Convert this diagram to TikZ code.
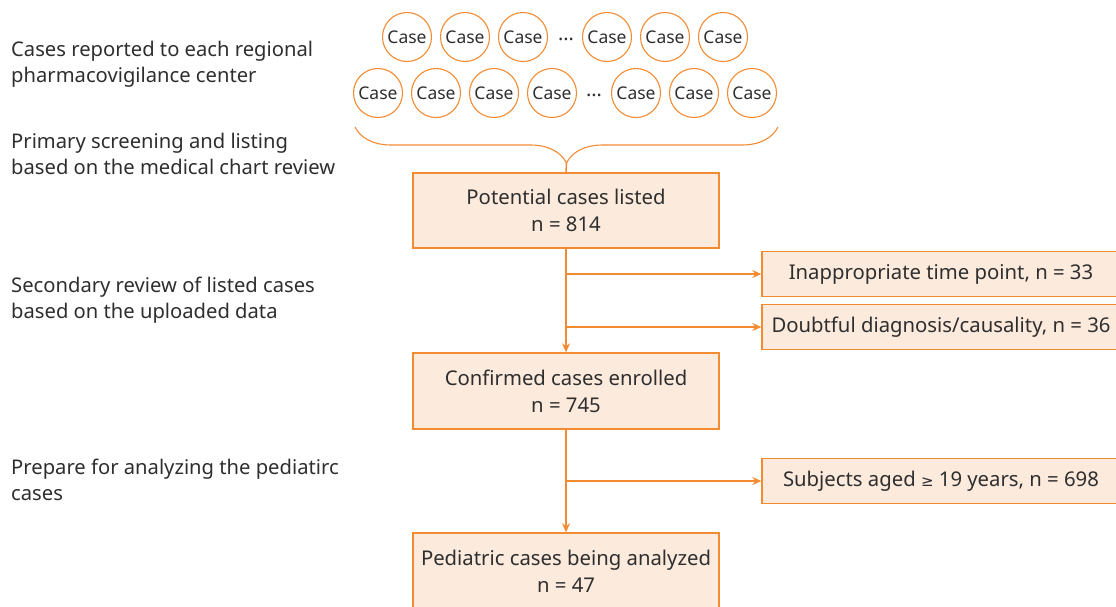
\documentclass[tikz,border=0pt]{standalone}
\usepackage{fontspec}
\setmainfont{Noto Sans}
\newfontfamily\symfont{DejaVu Sans}
\usepackage{xcolor}
\usepackage{tikz}
\usetikzlibrary{arrows.meta,decorations.pathreplacing}
\definecolor{flowline}{HTML}{F28B32}
\definecolor{flowfill}{HTML}{FCEADD}
\definecolor{flowtext}{HTML}{2E2E2E}

\begin{document}
\begin{tikzpicture}[x=1pt, y=-1pt,
    every node/.style={text=flowtext},
    casenode/.style={circle, draw=flowline, line width=1.1pt, minimum size=49pt, inner sep=0pt, font=\fontsize{17.5}{20}\selectfont},
    flowbox/.style={draw=flowline, fill=flowfill, line width=1.4pt, minimum width=306pt, align=center, font=\fontsize{20.3}{27}\selectfont},
    sidebox/.style={draw=flowline, fill=flowfill, line width=1.4pt, minimum width=358pt, minimum height=45pt, font=\fontsize{20.3}{27}\selectfont},
    note/.style={anchor=west, align=left, inner sep=0pt, font=\fontsize{20.2}{26}\selectfont},
    link/.style={draw=flowline, line width=1.5pt, -{Stealth[length=9pt, width=8pt]}}]
  \useasboundingbox (0,0) rectangle (1116,606);
  \clip (0,0) rectangle (1116,606);

  % steps on the left
  \node[note] (step1) at (11,64)  {Cases reported to each regional\\pharmacovigilance center};
  \node[note] (step2) at (11,154) {Primary screening and listing\\based on the medical chart review};
  \node[note] (step3) at (11,300) {Secondary review of listed cases\\based on the uploaded data};
  \node[note] (step4) at (11,480) {Prepare for analyzing the pediatirc\\cases};

  % reported cases
  \foreach \x [count=\i] in {407,465,523,607,665,723}
    \node[casenode] (top\i) at (\x,37) {Case};
  \node[font=\fontsize{20}{22}\selectfont] (topdots) at (566,39) {\dots};
  \foreach \x [count=\i] in {378,436,494,552,636,694,752}
    \node[casenode] (bot\i) at (\x,93) {Case};
  \node[font=\fontsize{20}{22}\selectfont] (botdots) at (594,95) {\dots};
  \draw[flowline, line width=1.1pt, decorate, decoration={brace, amplitude=36pt}] (778,127) -- (355,127);
  \coordinate (tip) at (566.5,163);

  % flow
  \node[flowbox, minimum height=75pt] (pot)  at (566,210.5) {Potential cases listed\\n = 814};
  \node[flowbox, minimum height=76pt] (conf) at (566,391)   {Confirmed cases enrolled\\n = 745};
  \node[flowbox, minimum height=76pt] (ped)  at (566,571)   {Pediatric cases being analyzed\\n = 47};
  \node[sidebox] (time)  at (941,274) {Inappropriate time point, n = 33};
  \node[sidebox] (doubt) at (941,327) {Doubtful diagnosis/causality, n = 36};
  \node[sidebox] (adult) at (941,481) {Subjects aged {\symfont\fontsize{15}{18}\selectfont ≥} 19 years, n = 698};

  \draw[flowline, line width=1.5pt] (tip) -- (pot.north);
  \draw[link] (pot.south) -- (conf.north);
  \draw[link] (pot.south |- time.west) -- (time.west);
  \draw[link] (pot.south |- doubt.west) -- (doubt.west);
  \draw[link] (conf.south) -- (ped.north);
  \draw[link] (conf.south |- adult.west) -- (adult.west);
\end{tikzpicture}
\end{document}
